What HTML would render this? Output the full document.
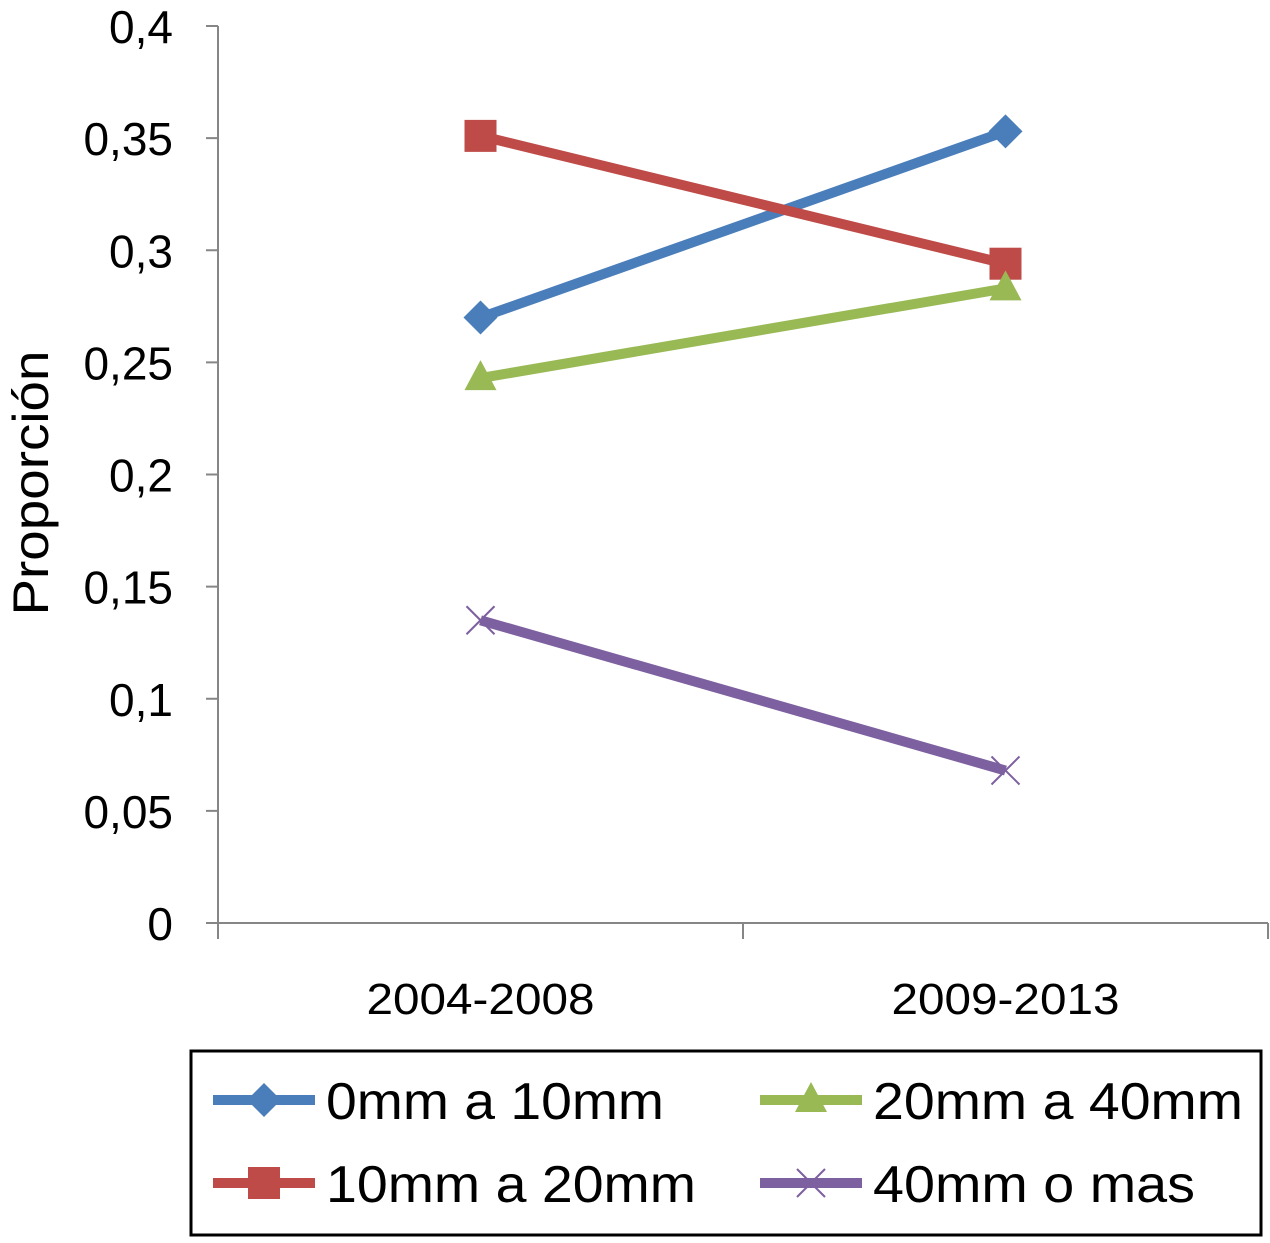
<!DOCTYPE html>
<html><head><meta charset="utf-8"><style>
body{margin:0;background:#fff;}
svg text{font-family:"Liberation Sans",Arial,sans-serif;fill:#000;}
</style></head><body>
<svg id="chart" width="1270" height="1238" xmlns="http://www.w3.org/2000/svg">
<g id="axes"></g><g id="series"></g><g id="legend"></g>
</svg>
<script>
const categories = ["2004-2008","2009-2013"];
const seriesNames = ["0mm a 10mm","10mm a 20mm","20mm a 40mm","40mm o mas"];
const s0 = [0.270, 0.353];
const s1 = [0.351, 0.294];
const s2 = [0.243, 0.283];
const s3 = [0.135, 0.068];
const yTicks = [0,0.05,0.1,0.15,0.2,0.25,0.3,0.35,0.4];
const yTickLabels = ["0","0,05","0,1","0,15","0,2","0,25","0,3","0,35","0,4"];

const NS="http://www.w3.org/2000/svg";
const X0=218,X1=1268,Y0=923,Y1=26,YMAX=0.4;
const y=v=>Y0-(v/YMAX)*(Y0-Y1);
const bw=(X1-X0)/categories.length;
const x=i=>X0+bw*(i+0.5);
function mk(tag,attrs,parent){const e=document.createElementNS(NS,tag);for(const k in attrs)e.setAttribute(k,attrs[k]);parent.appendChild(e);return e;}
const axes=document.getElementById('axes'),ser=document.getElementById('series'),leg=document.getElementById('legend');

let yl=mk('line',{x1:X0,y1:Y1,x2:X0,y2:Y0,stroke:'#868686','stroke-width':2},axes);


let xl=mk('line',{x1:X0,y1:Y0,x2:X1,y2:Y0,stroke:'#868686','stroke-width':2},axes);


yTicks.forEach((v,i)=>{
  mk('line',{x1:X0-12,y1:y(v),x2:X0,y2:y(v),stroke:'#868686','stroke-width':2},axes);
  const t=mk('text',{x:173,y:y(v)+17,'text-anchor':'end','font-size':46},axes);
  t.textContent=yTickLabels[i];
  
  
});
for(let i=0;i<=categories.length;i++){mk('line',{x1:X0+bw*i,y1:Y0,x2:X0+bw*i,y2:Y0+16,stroke:'#868686','stroke-width':2},axes);}
categories.forEach((c,i)=>{
  const t=mk('text',{x:x(i),y:1014,'text-anchor':'middle','font-size':44,textLength:228,lengthAdjust:'spacingAndGlyphs'},axes);
  t.textContent=c;
  
  
});
const yt=mk('text',{x:0,y:0,'text-anchor':'middle','font-size':50,textLength:265,lengthAdjust:'spacingAndGlyphs',transform:'translate(48,483) rotate(-90)'},axes);
yt.textContent='Proporción';



const colors=['#4a7ebb','#be4b48','#98b954','#7d60a0'];
const marks=['diamond','square','triangle','x'];
function marker(type,cx,cy,col,p){
  if(type==='diamond') return mk('polygon',{points:`${cx},${cy-17} ${cx+17},${cy} ${cx},${cy+17} ${cx-17},${cy}`,fill:col},p);
  if(type==='square') return mk('rect',{x:cx-16,y:cy-16,width:32,height:32,fill:col},p);
  if(type==='triangle') return mk('polygon',{points:`${cx},${cy-18} ${cx+16},${cy+12} ${cx-16},${cy+12}`,fill:col},p);
  const g=mk('g',{},p);
  mk('line',{x1:cx-14,y1:cy-14,x2:cx+14,y2:cy+14,stroke:col,'stroke-width':2},g);
  mk('line',{x1:cx-14,y1:cy+14,x2:cx+14,y2:cy-14,stroke:col,'stroke-width':2},g);
  return g;
}
[s0,s1,s2,s3].forEach((s,k)=>{
  const g=mk('g',{},ser);
  
  
  const pl=mk('polyline',{points:s.map((v,i)=>x(i)+','+y(v)).join(' '),fill:'none',stroke:colors[k],'stroke-width':10},g);
  
  
  s.forEach((v,i)=>{
    const m=marker(marks[k],x(i),y(v),colors[k],g);
    
    
  });
});

const box=mk('rect',{x:191,y:1051,width:1070,height:184,fill:'none',stroke:'#000','stroke-width':3},leg);


const lpos=[[213,1100],[213,1183],[760,1100],[760,1183]];
const lw=[338,370,370,322];
seriesNames.forEach((n,k)=>{
  const [lx,ly]=lpos[k];
  const g=mk('g',{},leg);
  
  
  mk('line',{x1:lx,y1:ly,x2:lx+102,y2:ly,stroke:colors[k],'stroke-width':10},g);
  marker(marks[k],lx+51,ly,colors[k],g);
  const t=mk('text',{x:lx+113,y:ly+19,'font-size':52,textLength:lw[k],lengthAdjust:'spacingAndGlyphs'},g);
  t.textContent=n;
});
</script>
</body></html>
